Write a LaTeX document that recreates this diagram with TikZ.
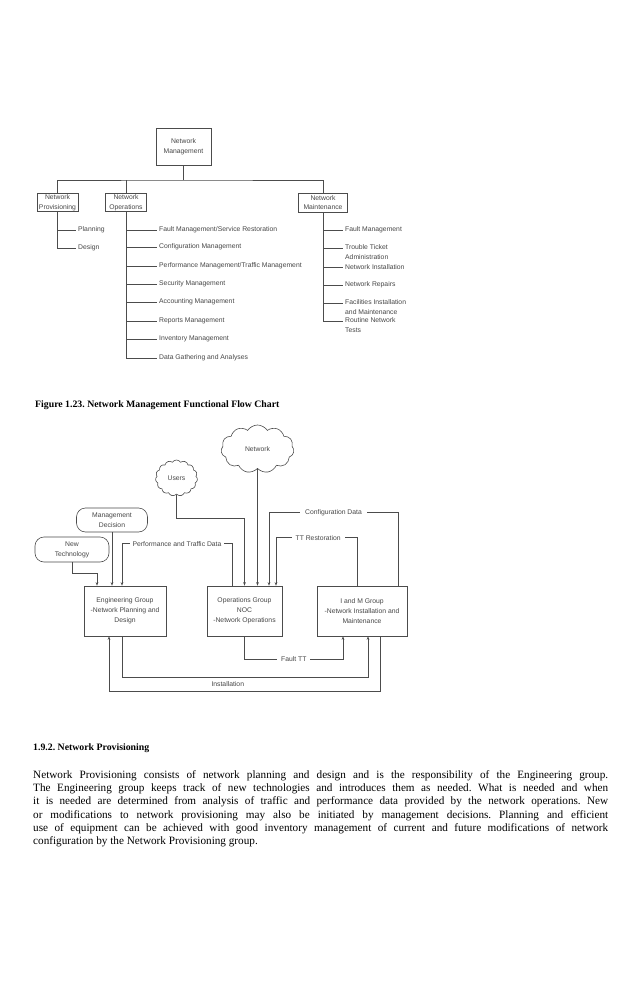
\documentclass[tikz,border=0pt]{standalone}
\usepackage{fontspec}
\setmainfont{Liberation Serif}
\newfontfamily\chartfont{Liberation Sans}
\usetikzlibrary{shapes.symbols,arrows.meta}
\frenchspacing
\begin{document}
\begin{tikzpicture}[x=1pt,y=-1pt,
  chart/.style={font=\chartfont\fontsize{6.8}{9.8}\selectfont, text=black!72},
  box/.style={chart, draw=black!70, line width=0.6pt, inner sep=1pt, align=center},
  rbox/.style={box, rounded corners=9pt},
  cloudnode/.style={chart, draw=black!70, line width=0.6pt, cloud, cloud puff arc=115},
  lbl/.style={chart, anchor=west, inner xsep=2pt, inner ysep=1pt},
  mlbl/.style={chart, anchor=north west, align=left, inner xsep=2pt, inner ysep=1pt},
  ln/.style={draw=black!70, line width=0.6pt},
  arr/.style={ln, -{Stealth[length=3.5pt,width=2.6pt]}},
  gaplbl/.style={chart, fill=white, inner ysep=1pt},
  heading/.style={font=\bfseries\fontsize{9.8}{11}\selectfont, inner sep=0pt, anchor=west}
]
\useasboundingbox[fill=white] (0,0) rectangle (638,984);

% ---------------- organisation chart ----------------
\node[box, minimum width=55, minimum height=37] (nm) at (183.5,146.5) {Network\\Management};
\node[box, minimum width=41, minimum height=17] (np) at (57.5,202.5) {Network\\Provisioning};
\node[box, minimum width=41, minimum height=17] (ops) at (126,202.5) {Network\\Operations};
\node[box, minimum width=49, minimum height=19] (mnt) at (323,202.5) {Network\\Maintenance};
\coordinate (bus) at (183.5,180);
\draw[ln] (nm.south) -- (bus);
\draw[ln] (np.north) |- (bus) -| (mnt.north);
\draw[ln] (ops.north) -- (ops.north |- bus);

\node[lbl] (pl) at (76,230) {Planning};
\node[lbl] (ds) at (76,248) {Design};
\foreach \n in {pl,ds} \draw[ln] (np.south) |- (\n.west);

\node[lbl] (o1) at (157,230) {Fault Management/Service Restoration};
\node[lbl] (o2) at (157,247) {Configuration Management};
\node[lbl] (o3) at (157,266) {Performance Management/Traffic Management};
\node[lbl] (o4) at (157,284) {Security Management};
\node[lbl] (o5) at (157,302) {Accounting Management};
\node[lbl] (o6) at (157,321) {Reports Management};
\node[lbl] (o7) at (157,339) {Inventory Management};
\node[lbl] (o8) at (157,358) {Data Gathering and Analyses};
\foreach \n in {o1,o2,o3,o4,o5,o6,o7,o8} \draw[ln] (ops.south) |- (\n.west);

\node[lbl] (m1) at (343,230) {Fault Management};
\node[mlbl] (m2) at (343,243.3) {Trouble Ticket\\Administration};
\node[lbl] (m3) at (343,267) {Network Installation};
\node[lbl] (m4) at (343,285) {Network Repairs};
\node[mlbl] (m5) at (343,298.3) {Facilities Installation\\and Maintenance};
\node[mlbl] (m6) at (343,316.3) {Routine Network\\Tests};
\foreach \n in {m1,m3,m4} \draw[ln] (mnt.south) |- (\n.west);
\foreach \n in {m2,m5,m6} \draw[ln] (mnt.south) |- ([yshift=-4.7pt]\n.north west);

\node[heading] (cap) at (35,405) {Figure 1.23. Network Management Functional Flow Chart};

% ---------------- functional flow chart ----------------
\node[cloudnode, cloud puffs=11, aspect=1.5, minimum width=73, minimum height=48, inner sep=0pt] (net) at (257.5,449) {Network};
\node[cloudnode, cloud puffs=15, aspect=1.1, minimum width=42, minimum height=36, inner sep=0pt] (usr) at (176.5,478) {Users};
\node[rbox, minimum width=71, minimum height=24] (md) at (112,520) {Management\\Decision};
\node[rbox, minimum width=74, minimum height=25] (nt) at (72,549.5) {New\\Technology};

\node[box, minimum width=82, minimum height=50] (eng) at (125,611) {Engineering Group\\-Network Planning and\\Design};
\node[box, minimum width=75, minimum height=50] (ops2) at (244.5,611) {Operations Group\\NOC\\-Network Operations};
\node[box, minimum width=90, minimum height=50] (im) at (362,611) {I and M Group\\-Network Installation and\\Maintenance};

% inputs to engineering
\draw[arr] (nt.south) -- ++(0,11) -| ([xshift=-28pt]eng.north);
\draw[arr] (md.south) -- (md.south |- eng.north);
\draw[arr] ([xshift=-12.5pt]ops2.north) -- ([xshift=-12.5pt,yshift=42pt]ops2.north)
   -| node[pos=0.25, gaplbl, inner xsep=3pt] {Performance and Traffic Data} ([xshift=-3pt]eng.north);

% inputs to operations
\draw[arr] (usr.south) |- ([yshift=67pt]ops2.north) -- (ops2.north);
\draw[arr] (net.south) -- (net.south |- ops2.north);
\draw[arr] ([xshift=36pt]im.north) -- ([xshift=36pt,yshift=73pt]im.north)
   -| node[pos=0.25, gaplbl, inner xsep=5pt] {Configuration Data} ([xshift=24.5pt]ops2.north);
\draw[arr] ([xshift=-5pt]im.north) -- ([xshift=-5pt,yshift=48pt]im.north)
   -| node[pos=0.24, gaplbl, inner xsep=4pt] {TT Restoration} ([xshift=31.5pt]ops2.north);

% bottom connectors
\draw[arr, line width=0.7pt] (ops2.south) -- ([yshift=-23pt]ops2.south)
   -| node[pos=0.25, gaplbl, inner xsep=4pt] {Fault TT} ([xshift=-19pt]im.south);
\draw[arr, line width=0.7pt] ([xshift=-3pt]eng.south) -- ([xshift=-3pt,yshift=-41pt]eng.south)
   -| node[pos=0.215, chart, below=1pt] {Installation} ([xshift=6pt]im.south);
\draw[arr, line width=0.8pt] ([xshift=18pt]im.south) -- ([xshift=18pt,yshift=-55pt]im.south)
   -| ([xshift=-16pt]eng.south);

% ---------------- text ----------------
\node[heading] (sec) at (33,748) {1.9.2. Network Provisioning};
\node[anchor=north west, inner sep=0pt, text width=575pt, align=justify,
      font=\fontsize{11.2}{13.2}\selectfont] (par) at (33,770.5) {%
Network Provisioning consists of network planning and design and is the responsibility of the Engineering group.\linebreak
The Engineering group keeps track of new technologies and introduces them as needed. What is needed and when\linebreak
it is needed are determined from analysis of traffic and performance data provided by the network operations. New\linebreak
or modifications to network provisioning may also be initiated by management decisions. Planning and efficient\linebreak
use of equipment can be achieved with good inventory management of current and future modifications of network\linebreak
configuration by the Network Provisioning group.};
\end{tikzpicture}
\end{document}
